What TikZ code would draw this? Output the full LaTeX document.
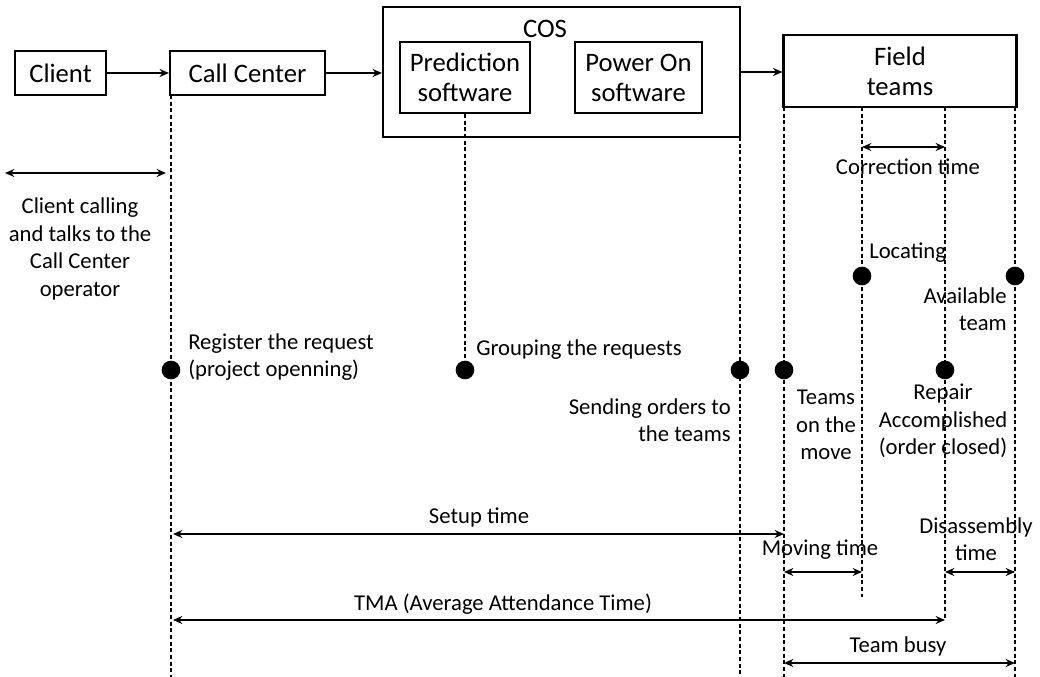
\documentclass[tikz,border=0pt]{standalone}
\usepackage{fontspec}
\setmainfont{Carlito}
\usetikzlibrary{arrows.meta}
\begin{document}
\begin{tikzpicture}[x=0.75pt,y=-0.75pt,
  box/.style={draw, line width=1.6pt, inner sep=0pt, align=center, font=\fontsize{20}{22.5}\selectfont},
  lbl/.style={font=\fontsize{17}{20.6}\selectfont, inner sep=0pt, align=center},
  vline/.style={line width=1.2pt, dash pattern=on 3pt off 2pt},
  dur/.style={{Stealth[length=7pt,width=6pt]}-{Stealth[length=7pt,width=6pt]}, line width=1.4pt},
  flow/.style={-{Stealth[length=7pt,width=6pt]}, line width=1.4pt},
  dot/.style={circle, fill, inner sep=0pt, minimum size=14pt}]
\useasboundingbox (0,0) rectangle (1040,677);

% boxes
\node[box, minimum width=68.25pt, minimum height=33pt] (client) at (60.5,73) {Client};
\node[box, minimum width=116.25pt, minimum height=33pt] (cc) at (247.5,73) {Call Center};
\node[box, minimum width=267.75pt, minimum height=97.5pt] (cos) at (561.5,72) {};
\node[lbl, font=\fontsize{20}{22.5}\selectfont] (coslbl) at (545,29) {COS};
\node[box, minimum width=97.5pt, minimum height=53.25pt] (pred) at (465,77.5) {Prediction\\software};
\node[box, minimum width=95.25pt, minimum height=53.25pt] (pon) at (638.5,77.5) {Power On\\software};
\node[box, minimum width=174.75pt, minimum height=54pt] (field) at (900,71) {Field\\teams};

% flow arrows
\draw[flow] (client) -- (cc);
\draw[flow] (cc.east) -- (cc.east -| cos.west);
\draw[flow] (cos.east |- 0,72) -- (field.west |- 0,72);

% vertical timelines
\coordinate (t1) at (171,95);   \coordinate (b1) at (171,677);
\coordinate (t2) at (pred.south); \coordinate (b2) at (465,370);
\coordinate (t3) at (740,137);  \coordinate (b3) at (740,677);
\coordinate (t4) at (784,107);  \coordinate (b4) at (784,677);
\coordinate (t5) at (862,107);  \coordinate (b5) at (862,597);
\coordinate (t6) at (945,107);  \coordinate (b6) at (945,620);
\coordinate (t7) at (1015,107); \coordinate (b7) at (1015,677);
\foreach \i in {1,...,7} {\draw[vline] (t\i) -- (b\i);}

% event dots
\node[dot] (d1) at (171,370) {};
\node[dot] (d2) at (465,370) {};
\node[dot] (d3) at (740,370) {};
\node[dot] (d4) at (784,370) {};
\node[dot] (d5) at (862,276) {};
\node[dot] (d6) at (945,370) {};
\node[dot] (d7) at (1015,276) {};

% duration arrows
\coordinate (ca) at (5,173); \coordinate (cb) at (166,173);
\draw[dur] (ca) -- (cb);
\coordinate (cra) at (862,147); \coordinate (crb) at (945,147);
\draw[dur] (cra) -- (crb);
\coordinate (sa) at (173,534); \coordinate (sb) at (784,534);
\draw[dur] (sa) -- (sb);
\coordinate (ma) at (784,572); \coordinate (mb) at (862,572);
\draw[dur] (ma) -- (mb);
\coordinate (da) at (945,572); \coordinate (db) at (1015,572);
\draw[dur] (da) -- (db);
\coordinate (ta) at (173,620); \coordinate (tb) at (945,620);
\draw[dur] (ta) -- (tb);
\coordinate (ba) at (784,663); \coordinate (bb) at (1015,663);
\draw[dur] (ba) -- (bb);

% labels
\node[lbl] (l1) at (80,249) {Client calling\\and talks to the\\Call Center\\operator};
\node[lbl, anchor=west, align=left] (l2) at (188,357) {Register the request\\(project openning)};
\node[lbl, anchor=west] (l3) at (476,350) {Grouping the requests};
\node[lbl, anchor=east, align=right] (l4) at (731,420) {Sending orders to\\the teams};
\node[lbl] (l5) at (826,425) {Teams\\on the\\move};
\node[lbl] (l6) at (943,421) {Repair\\Accomplished\\(order closed)};
\node[lbl, anchor=west] (l7) at (869,253) {Locating};
\node[lbl, anchor=east, align=right] (l8) at (1007,309) {Available\\team};
\node[lbl] (l9) at (908,167) {Correction time};
\node[lbl] (l10) at (479,517) {Setup time};
\node[lbl] (l11) at (976,539) {Disassembly\\time};
\node[lbl] (l12) at (820,550) {Moving time};
\node[lbl] (l13) at (503,604) {TMA (Average Attendance Time)};
\node[lbl] (l14) at (898,646) {Team busy};
\end{tikzpicture}
\end{document}
